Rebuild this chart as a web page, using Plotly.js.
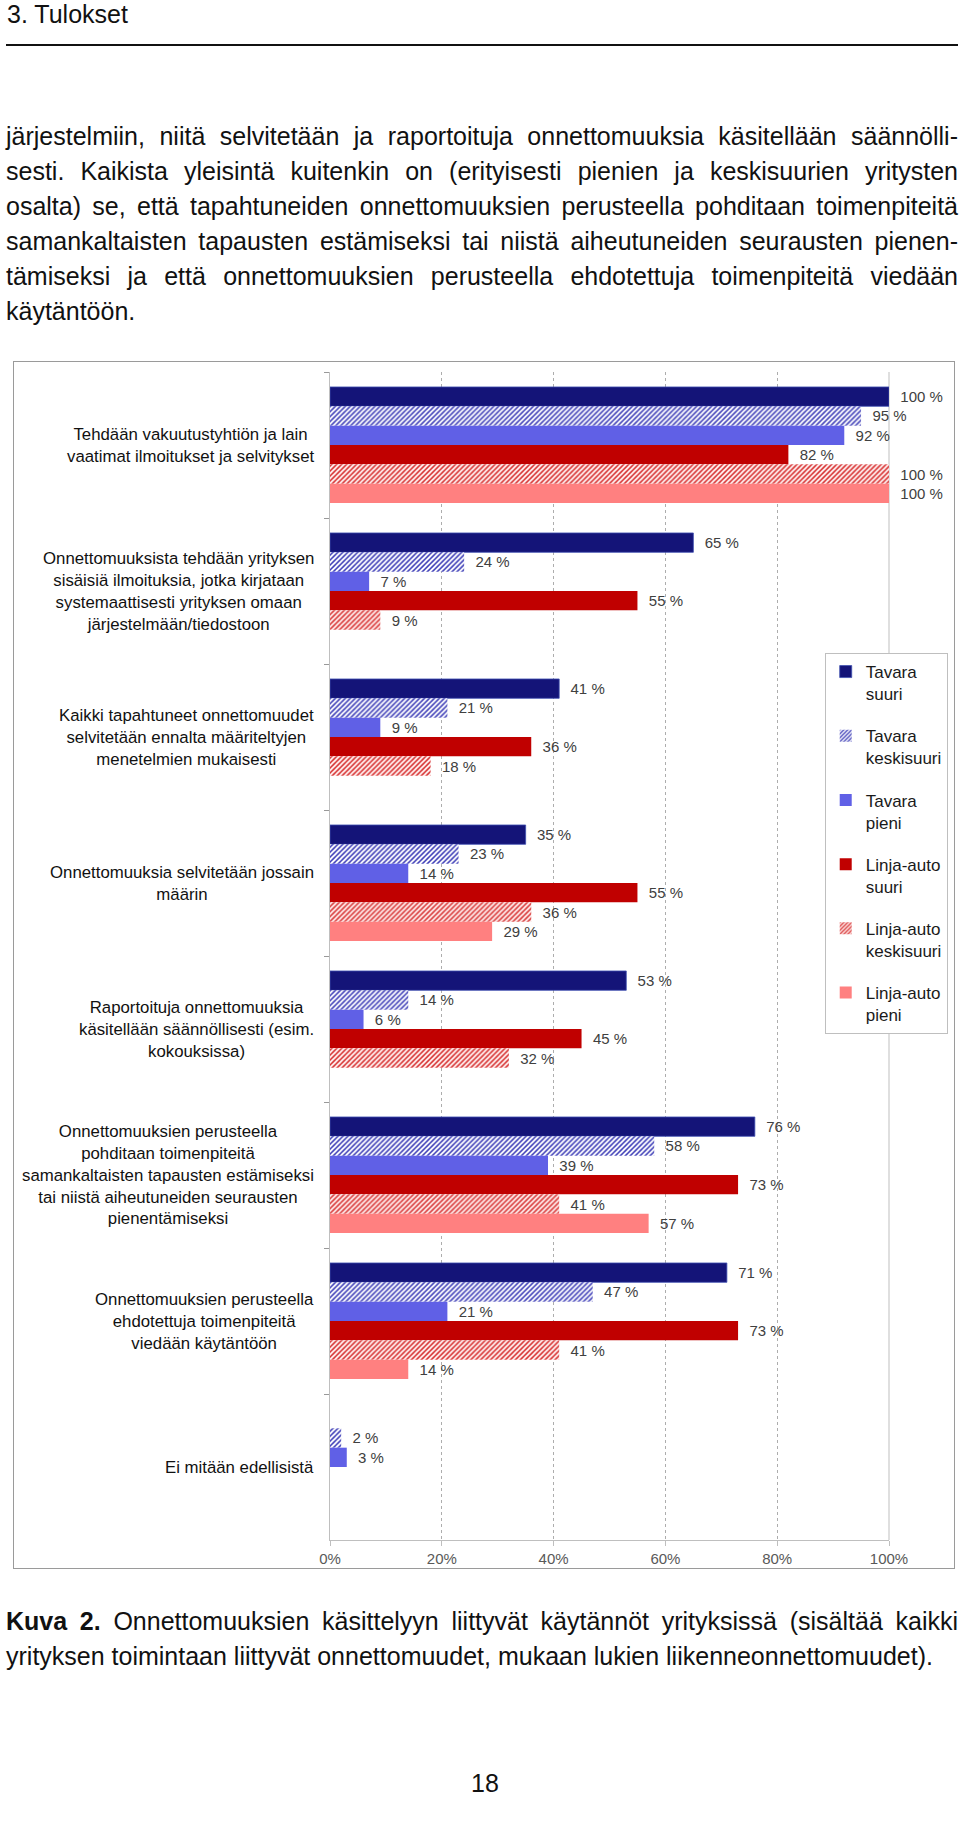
<!DOCTYPE html>
<html>
<head>
<meta charset="utf-8">
<script src="https://cdn.plot.ly/plotly-3.0.1.min.js"></script>
<style>
  html, body { margin: 0; padding: 0; background: #fff; }
  body { width: 960px; height: 1826px; position: relative; overflow: hidden;
         font-family: "Liberation Sans", Arial, Helvetica, sans-serif; color: #111; }
  .abs { position: absolute; }
  .heading { left: 7px; top: 0px; font-size: 25px; line-height: 28px; }
  .rule { left: 6px; top: 44px; width: 952px; height: 2px; background: #111; }
  .para { left: 6px; width: 952px; font-size: 25px; line-height: 35px; }
  .jl { text-align: justify; text-align-last: justify; }
  .ll { text-align: left; }
  .frame { left: 13px; top: 361px; width: 942px; height: 1208px; border: 1px solid #9a9a9a; box-sizing: border-box; }
  #chart { left: 13px; top: 361px; width: 947px; height: 1208px; }
  .pagenum { left: 440px; width: 90px; text-align: center; font-size: 25px; line-height: 35px; }
</style>
</head>
<body>
<div class="abs heading">3. Tulokset</div>
<div class="abs rule"></div>
<div class="abs para" style="top:119px">
  <div class="jl">järjestelmiin, niitä selvitetään ja raportoituja onnettomuuksia käsitellään säännölli-</div>
  <div class="jl">sesti. Kaikista yleisintä kuitenkin on (erityisesti pienien ja keskisuurien yritysten</div>
  <div class="jl">osalta) se, että tapahtuneiden onnettomuuksien perusteella pohditaan toimenpiteitä</div>
  <div class="jl">samankaltaisten tapausten estämiseksi tai niistä aiheutuneiden seurausten pienen-</div>
  <div class="jl">tämiseksi ja että onnettomuuksien perusteella ehdotettuja toimenpiteitä viedään</div>
  <div class="ll">käytäntöön.</div>
</div>
<div class="abs frame"></div>
<div class="abs" id="chart"></div>
<div class="abs para" style="top:1604px">
  <div class="jl"><b>Kuva 2.</b> Onnettomuuksien käsittelyyn liittyvät käytännöt yrityksissä (sisältää kaikki</div>
  <div class="ll">yrityksen toimintaan liittyvät onnettomuudet, mukaan lukien liikenneonnettomuudet).</div>
</div>
<div class="abs pagenum" style="top:1766px">18</div>

<script>
// ---- Data ----
const categories = [
  "Tehdään vakuutustyhtiön ja lain<br>vaatimat ilmoitukset ja selvitykset",
  "Onnettomuuksista tehdään yrityksen<br>sisäisiä ilmoituksia, jotka kirjataan<br>systemaattisesti yrityksen omaan<br>järjestelmään/tiedostoon",
  "Kaikki tapahtuneet onnettomuudet<br>selvitetään ennalta määriteltyjen<br>menetelmien mukaisesti",
  "Onnettomuuksia selvitetään jossain<br>määrin",
  "Raportoituja onnettomuuksia<br>käsitellään säännöllisesti (esim.<br>kokouksissa)",
  "Onnettomuuksien perusteella<br>pohditaan toimenpiteitä<br>samankaltaisten tapausten estämiseksi<br>tai niistä aiheutuneiden seurausten<br>pienentämiseksi",
  "Onnettomuuksien perusteella<br>ehdotettuja toimenpiteitä<br>viedään käytäntöön",
  "Ei mitään edellisistä"
];
const seriesNames = [
  "Tavara<br>suuri", "Tavara<br>keskisuuri", "Tavara<br>pieni",
  "Linja-auto<br>suuri", "Linja-auto<br>keskisuuri", "Linja-auto<br>pieni"
];
const tavaraSuuri       = [100, 65, 41, 35, 53, 76, 71, null];
const tavaraKeskisuuri  = [95, 24, 21, 23, 14, 58, 47, 2];
const tavaraPieni       = [92, 7, 9, 14, 6, 39, 21, 3];
const linjaSuuri        = [82, 55, 36, 55, 45, 73, 73, null];
const linjaKeskisuuri   = [100, 9, 18, 36, 32, 41, 41, null];
const linjaPieni        = [100, null, null, 29, null, 57, 14, null];
const xTickVals = [0, 20, 40, 60, 80, 100];
const xTickText = ["0%", "20%", "40%", "60%", "80%", "100%"];

// ---- Styles ----
const seriesValues = [tavaraSuuri, tavaraKeskisuuri, tavaraPieni, linjaSuuri, linjaKeskisuuri, linjaPieni];
const markerStyles = [
  { color: "#141478", line: { color: "#3F4FB0", width: 0.8 } },
  { color: "#3C3CB4", pattern: { shape: "/", fillmode: "replace", fgcolor: "#4040B8", bgcolor: "#ffffff", size: 3.5, solidity: 0.45 } },
  { color: "#6060E6" },
  { color: "#C00000" },
  { color: "#D83838", pattern: { shape: "/", fillmode: "replace", fgcolor: "#D83838", bgcolor: "#FFEDED", size: 3.5, solidity: 0.45 } },
  { color: "#FF8080" }
];
const FONT = "Liberation Sans, Arial, Helvetica, sans-serif";
const NB = "\u00a0\u00a0";

const traces = seriesValues.map((vals, i) => ({
  type: "bar",
  orientation: "h",
  name: seriesNames[i],
  y: categories,
  x: vals,
  text: vals.map(v => (v === null ? "" : NB + v + " %")),
  texttemplate: "%{text}",
  marker: markerStyles[i],
  textposition: "outside",
  textfont: { family: FONT, size: 15, color: "#404040" },
  cliponaxis: false,
  constraintext: "none",
  legendgroup: "g" + i,
  hoverinfo: "skip"
}));

const annotations = categories.map(c => ({
  xref: "paper", yref: "y", x: 0, y: c, xanchor: "right", yanchor: "middle",
  xshift: -14, align: "center", showarrow: false, text: c,
  font: { family: FONT, size: 16.8, color: "#111111" }
}));

const layout = {
  width: 947, height: 1208,
  margin: { l: 317, r: 71, t: 11, b: 29, autoexpand: false },
  paper_bgcolor: "rgba(0,0,0,0)",
  plot_bgcolor: "rgba(0,0,0,0)",
  barmode: "group",
  bargap: 0.205,
  bargroupgap: 0,
  font: { family: FONT, color: "#333" },
  showlegend: true,
  legend: {
    x: 0.885, y: 0.7594, xanchor: "left", yanchor: "top",
    bgcolor: "#ffffff", bordercolor: "#BFBFBF", borderwidth: 1,
    font: { family: FONT, size: 17, color: "#1a1a1a" },
    traceorder: "grouped", tracegroupgap: 17, valign: "top"
  },
  xaxis: {
    range: [0, 100], tickvals: xTickVals, ticktext: xTickText,
    showgrid: true, gridcolor: "#ADADAD", griddash: "3px,3px", gridwidth: 1,
    zeroline: false, showline: true, linecolor: "#BFBFBF", linewidth: 1,
    ticks: "outside", ticklen: 5, tickcolor: "#BFBFBF",
    tickfont: { family: FONT, size: 15, color: "#595959" },
    fixedrange: true
  },
  yaxis: {
    type: "category", categoryorder: "array", categoryarray: categories,
    autorange: "reversed",
    showticklabels: false, showgrid: false, zeroline: false,
    showline: true, linecolor: "#BFBFBF", linewidth: 1,
    ticks: "outside", tickson: "boundaries", ticklen: 5, tickcolor: "#999999",
    fixedrange: true
  },
  shapes: [{
    type: "line", xref: "paper", yref: "paper", x0: 1, x1: 1, y0: 0, y1: 1,
    line: { color: "#BFBFBF", width: 1 }, layer: "below"
  }],
  annotations: annotations
};

Plotly.newPlot("chart", traces, layout, { displayModeBar: false, staticPlot: true });
</script>
</body>
</html>
